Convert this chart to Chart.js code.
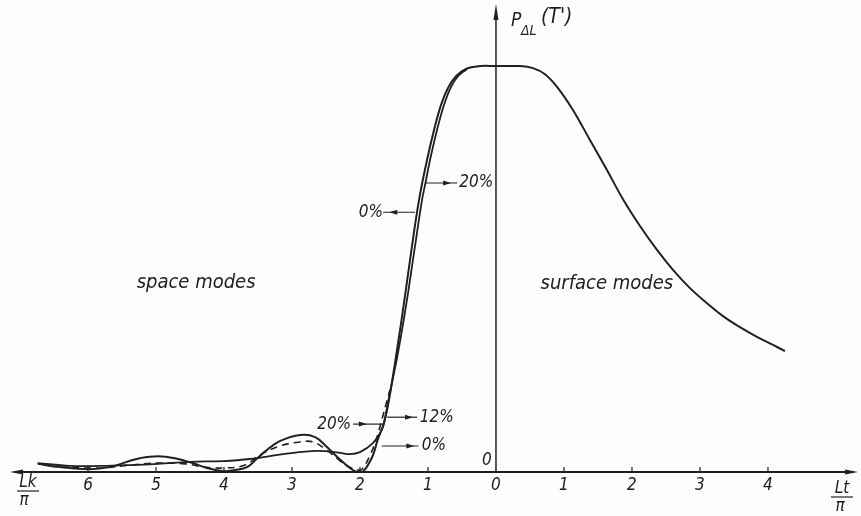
<!DOCTYPE html>
<html>
<head>
<meta charset="utf-8">
<script src="https://cdn.jsdelivr.net/npm/chart.js@4"></script>
<style>
  html, body { margin: 0; padding: 0; background: #fefefe; }
  #wrap { width: 861px; height: 516px; position: relative; }
</style>
</head>
<body>
<div id="wrap"><canvas id="chart"></canvas></div>
<script>
// x in units of L·k/π (left, negative side) and L·t/π (right side), y = P_ΔL(T') normalised to the plateau
const tickValues = [-6, -5, -4, -3, -2, -1, 0, 1, 2, 3, 4];
const tickLabels = ['6', '5', '4', '3', '2', '1', '0', '1', '2', '3', '4'];

// 0 % curve (solid), continues into the surface-mode branch
const x0pct = [-6.74, -6.41, -5.97, -5.68, -5.43, -5.24, -4.97, -4.72, -4.46, -4.25,
  -4.01, -3.84, -3.66, -3.51, -3.37, -3.18, -2.88, -2.66, -2.49, -2.29,
  -2.15, -2.04, -1.96, -1.82, -1.74, -1.647, -1.574, -1.456, -1.346, -1.243,
  -1.132, -1.015, -0.912, -0.809, -0.706, -0.588, -0.441, -0.235, 0,
  0.353, 0.544, 0.721, 0.912, 1.132, 1.382, 1.632, 1.868, 2.118, 2.368,
  2.603, 2.853, 3.103, 3.338, 3.588, 3.838, 4.074, 4.25];
const y0pct = [0.020, 0.012, 0.007, 0.012, 0.025, 0.034, 0.039, 0.034, 0.022, 0.010,
  0.002, 0.005, 0.012, 0.034, 0.054, 0.076, 0.091, 0.086, 0.062, 0.030,
  0.010, 0, 0, 0.037, 0.079, 0.121, 0.177, 0.300, 0.424, 0.547,
  0.670, 0.768, 0.842, 0.904, 0.946, 0.975, 0.993, 1.0, 1.0,
  1.0, 0.995, 0.980, 0.946, 0.892, 0.818, 0.744, 0.672, 0.606, 0.547,
  0.498, 0.453, 0.416, 0.384, 0.357, 0.333, 0.313, 0.298];

// 12 % curve (dashed)
const x12pct = [-6.41, -5.82, -5.38, -4.97, -4.57, -4.28, -3.99, -3.69, -3.47, -3.18,
  -2.88, -2.69, -2.49, -2.29, -2.15, -2.04, -1.97, -1.85, -1.75, -1.68, -1.62, -1.56];
const y12pct = [0.012, 0.010, 0.017, 0.022, 0.020, 0.012, 0.010, 0.017, 0.042, 0.064,
  0.074, 0.074, 0.054, 0.027, 0.012, 0.005, 0.007, 0.042, 0.086, 0.128, 0.165, 0.202];

// 20 % curve (solid, flat bottom)
const x20pct = [-6.74, -6.26, -5.82, -5.38, -4.97, -4.50, -4.01, -3.62, -3.13, -2.63,
  -2.29, -2.15, -2.00, -1.81, -1.68, -1.63, -1.56, -1.434, -1.309, -1.199,
  -1.088, -1.037, -0.971, -0.868, -0.765, -0.669, -0.559, -0.426];
const y20pct = [0.022, 0.015, 0.015, 0.017, 0.020, 0.025, 0.027, 0.032, 0.044, 0.052,
  0.047, 0.044, 0.049, 0.071, 0.103, 0.135, 0.195, 0.300, 0.424, 0.547,
  0.670, 0.712, 0.768, 0.842, 0.904, 0.946, 0.975, 0.993];

const ink = '#202020';
const font = (size) => 'italic ' + size + 'px "DejaVu Sans Condensed", "DejaVu Sans", sans-serif';

function pts(xs, ys) {
  return xs.map((v, i) => ({ x: v, y: ys[i] }));
}

function arrowHead(ctx, x, y, dir, len, half) {
  // dir: 'l', 'r', 'u'
  ctx.beginPath();
  if (dir === 'r') { ctx.moveTo(x, y); ctx.lineTo(x - len, y - half); ctx.lineTo(x - len, y + half); }
  if (dir === 'l') { ctx.moveTo(x, y); ctx.lineTo(x + len, y - half); ctx.lineTo(x + len, y + half); }
  if (dir === 'u') { ctx.moveTo(x, y); ctx.lineTo(x - half, y + len); ctx.lineTo(x + half, y + len); }
  ctx.closePath();
  ctx.fill();
}

// pointer labels: text, where the text sits, the leader line and its arrow (data units)
const pointers = [
  { text: '0%',  tx: -1.66, x1: -1.66, x2: -1.19, y: 0.640, head: -1.57, dir: 'l', align: 'right' },
  { text: '20%', tx: -0.54, x1: -1.03, x2: -0.57, y: 0.712, head: -0.66, dir: 'r', align: 'left' },
  { text: '20%', tx: -2.13, x1: -2.10, x2: -1.66, y: 0.118, head: -1.90, dir: 'r', align: 'right' },
  { text: '12%', tx: -1.12, x1: -1.60, x2: -1.16, y: 0.135, head: -1.22, dir: 'r', align: 'left' },
  { text: '0%',  tx: -1.09, x1: -1.68, x2: -1.14, y: 0.064, head: -1.20, dir: 'r', align: 'left' }
];

const axesPlugin = {
  id: 'axesPlugin',
  beforeDatasetsDraw(chart) {
    const { ctx, scales: { x, y } } = chart;
    const ox = x.getPixelForValue(0);
    const oy = y.getPixelForValue(0);
    ctx.save();
    ctx.strokeStyle = ink;
    ctx.fillStyle = ink;

    // x axis with arrows both ways
    ctx.lineWidth = 2;
    ctx.beginPath();
    ctx.moveTo(x.left + 4, oy);
    ctx.lineTo(x.right - 4, oy);
    ctx.stroke();
    arrowHead(ctx, x.left, oy, 'l', 13, 2.5);
    arrowHead(ctx, x.right, oy, 'r', 13, 2.5);

    // y axis
    ctx.lineWidth = 1.5;
    ctx.beginPath();
    ctx.moveTo(ox, oy);
    ctx.lineTo(ox, y.top + 6);
    ctx.stroke();
    arrowHead(ctx, ox, y.top, 'u', 16, 2.5);

    // ticks and labels
    ctx.lineWidth = 1.2;
    ctx.font = font(17);
    ctx.textAlign = 'center';
    ctx.textBaseline = 'middle';
    tickValues.forEach((v, i) => {
      const px = x.getPixelForValue(v);
      if (v !== 0) {
        ctx.beginPath();
        ctx.moveTo(px, oy);
        ctx.lineTo(px, oy - 5);
        ctx.stroke();
      }
      ctx.fillText(tickLabels[i], px, oy + 14);
    });
    ctx.fillText('0', ox - 9, oy - 11);

    // axis names
    ctx.font = font(17);
    ctx.fillText('Lk', x.left + 18, oy + 11);
    ctx.fillText('π', x.left + 14, oy + 29);
    ctx.beginPath();
    ctx.moveTo(x.left + 7, oy + 19);
    ctx.lineTo(x.left + 29, oy + 19);
    ctx.stroke();
    ctx.fillText('Lt', x.right - 16, oy + 17);
    ctx.fillText('π', x.right - 18, oy + 35);
    ctx.beginPath();
    ctx.moveTo(x.right - 27, oy + 25);
    ctx.lineTo(x.right - 5, oy + 25);
    ctx.stroke();

    // y title P_ΔL(T')
    ctx.textAlign = 'left';
    ctx.font = font(19);
    ctx.fillText('P', ox + 15, y.top + 17);
    ctx.font = font(14);
    ctx.fillText('ΔL', ox + 25, y.top + 27);
    ctx.font = font(21);
    ctx.fillText("(T')", ox + 45, y.top + 14);

    // region names
    ctx.textAlign = 'center';
    ctx.font = font(20);
    ctx.fillText('space modes', x.getPixelForValue(-4.41), y.getPixelForValue(0.466));
    ctx.fillText('surface modes', x.getPixelForValue(1.63), y.getPixelForValue(0.463));

    // pointer labels
    ctx.font = font(17);
    ctx.lineWidth = 1.2;
    pointers.forEach(p => {
      const py = y.getPixelForValue(p.y);
      ctx.beginPath();
      ctx.moveTo(x.getPixelForValue(p.x1), py);
      ctx.lineTo(x.getPixelForValue(p.x2), py);
      ctx.stroke();
      arrowHead(ctx, x.getPixelForValue(p.head), py, p.dir, 8, 2.5);
      ctx.textAlign = p.align;
      ctx.fillText(p.text, x.getPixelForValue(p.tx), py);
    });
    ctx.restore();
  }
};

new Chart(document.getElementById('chart'), {
  type: 'line',
  data: {
    datasets: [
      {
        label: '0%',
        data: pts(x0pct, y0pct),
        borderColor: ink,
        borderWidth: 2,
        tension: 0.4
      },
      {
        label: '12%',
        data: pts(x12pct, y12pct),
        borderColor: ink,
        borderWidth: 1.6,
        borderDash: [7, 5],
        tension: 0.4
      },
      {
        label: '20%',
        data: pts(x20pct, y20pct),
        borderColor: ink,
        borderWidth: 1.8,
        tension: 0.4
      }
    ]
  },
  options: {
    responsive: true,
    maintainAspectRatio: false,
    animation: false,
    clip: false,
    elements: { point: { radius: 0 } },
    layout: { padding: { left: 10, top: 4, right: 3, bottom: 44 } },
    plugins: {
      legend: { display: false },
      tooltip: { enabled: false }
    },
    scales: {
      x: { type: 'linear', min: -7.147, max: 5.324, display: false },
      y: { type: 'linear', min: 0, max: 1.153, display: false }
    }
  },
  plugins: [axesPlugin]
});
</script>
</body>
</html>
